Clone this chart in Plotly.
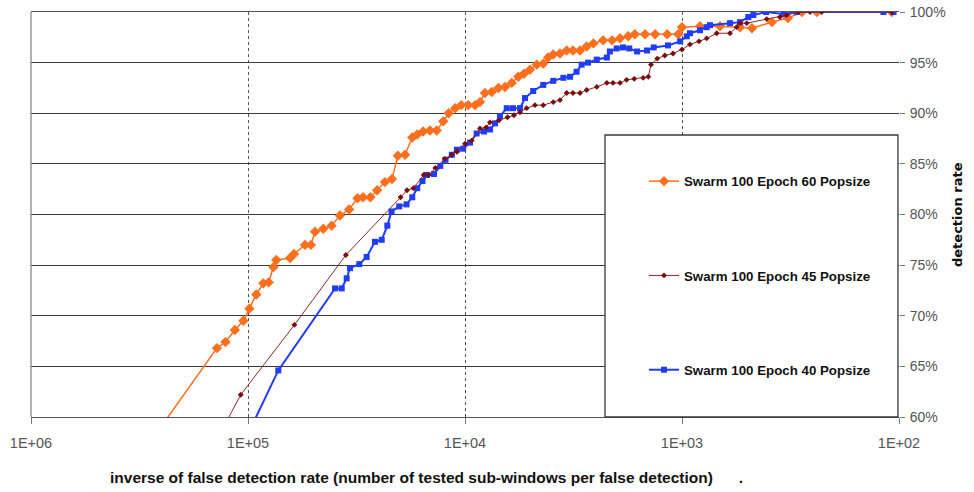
import plotly.graph_objects as go

# Detection rate vs. inverse false detection rate for three swarm settings
x_ticks = [1e6, 1e5, 1e4, 1e3, 1e2]
x_tick_labels = ["1E+06", "1E+05", "1E+04", "1E+03", "1E+02"]
y_ticks = [60, 65, 70, 75, 80, 85, 90, 95, 100]
y_tick_labels = ["60%", "65%", "70%", "75%", "80%", "85%", "90%", "95%", "100%"]

epoch60_x = [3.40e5, 1.39e5, 1.27e5, 1.15e5, 1.05e5, 9.86e4, 9.16e4, 8.50e4, 8.03e4, 7.64e4,
             7.41e4, 6.40e4, 6.14e4, 5.46e4, 5.13e4, 4.91e4, 4.50e4, 4.12e4, 3.77e4, 3.42e4,
             3.13e4, 2.95e4, 2.73e4, 2.54e4, 2.34e4, 2.17e4, 2.04e4, 1.89e4, 1.75e4, 1.66e4,
             1.56e4, 1.45e4, 1.35e4, 1.26e4, 1.19e4, 1.11e4, 1.04e4, 9.66e3, 8.99e3, 8.53e3,
             8.09e3, 7.53e3, 7.02e3, 6.54e3, 6.09e3, 5.68e3, 5.35e3, 5.02e3, 4.67e3, 4.36e3,
             4.14e3, 3.92e3, 3.65e3, 3.40e3, 3.18e3, 2.95e3, 2.75e3, 2.56e3, 2.31e3, 2.10e3,
             1.93e3, 1.77e3, 1.65e3, 1.48e3, 1.33e3, 1.17e3, 1.04e3, 1.00e3, 8.26e2, 6.68e2,
             5.40e2, 4.76e2, 3.85e2, 3.25e2, 2.80e2, 2.39e2, 1.08e2]
epoch60_y = [55.1, 66.8, 67.4, 68.6, 69.5, 70.7, 72.1, 73.2, 73.3, 74.8,
             75.5, 75.7, 76.1, 77.0, 77.0, 78.3, 78.6, 78.9, 79.9, 80.5,
             81.6, 81.7, 81.7, 82.4, 83.2, 83.5, 85.8, 85.9, 87.6, 87.9,
             88.2, 88.3, 88.3, 89.2, 90.0, 90.5, 90.8, 90.8, 90.8, 91.1,
             92.0, 92.1, 92.5, 92.6, 93.0, 93.6, 93.9, 94.3, 94.8, 94.9,
             95.5, 95.8, 95.9, 96.2, 96.2, 96.2, 96.6, 96.9, 97.2, 97.2,
             97.4, 97.6, 97.8, 97.8, 97.8, 97.8, 97.8, 98.5, 98.6, 98.6,
             98.5, 98.4, 99.0, 99.4, 100, 100, 100]

epoch45_x = [1.62e5, 1.08e5, 6.11e4, 3.54e4, 1.98e4, 1.85e4, 1.73e4, 1.55e4, 1.47e4, 1.37e4,
             1.24e4, 1.15e4, 1.09e4, 1.00e4, 9.31e3, 8.53e3, 8.00e3, 7.67e3, 6.97e3, 6.37e3,
             5.95e3, 5.58e3, 5.20e3, 4.76e3, 4.36e3, 3.92e3, 3.65e3, 3.40e3, 3.18e3, 2.95e3,
             2.75e3, 2.47e3, 2.22e3, 2.08e3, 1.93e3, 1.80e3, 1.66e3, 1.51e3, 1.43e3, 1.39e3,
             1.30e3, 1.20e3, 1.10e3, 1.00e3, 9.19e2, 8.35e2, 7.69e2, 6.92e2, 6.01e2, 5.60e2,
             5.40e2, 5.03e2, 4.07e2, 3.54e2, 3.29e2, 2.91e2, 2.57e2, 2.27e2, 1.08e2]
epoch45_y = [55.1, 62.2, 69.1, 76.0, 81.7, 82.4, 82.6, 83.9, 83.9, 84.6,
             85.5, 85.9, 86.2, 87.0, 87.3, 88.5, 88.6, 89.1, 89.3, 89.6,
             89.8, 90.1, 90.5, 90.8, 90.8, 91.1, 91.3, 92.0, 92.0, 92.0,
             92.3, 92.6, 93.0, 93.0, 93.0, 93.3, 93.4, 93.5, 93.6, 94.8,
             95.4, 95.7, 95.9, 96.3, 96.8, 97.1, 97.4, 97.9, 97.9, 98.5,
             98.9, 98.9, 99.3, 99.5, 99.7, 100, 100, 100, 100]

epoch40_x = [1.18e5, 7.25e4, 3.97e4, 3.70e4, 3.51e4, 3.39e4, 3.07e4, 2.84e4, 2.60e4, 2.42e4,
             2.28e4, 2.18e4, 2.01e4, 1.86e4, 1.75e4, 1.66e4, 1.57e4, 1.50e4, 1.39e4, 1.30e4,
             1.23e4, 1.15e4, 1.09e4, 1.02e4, 9.48e3, 8.84e3, 8.17e3, 7.67e3, 7.27e3, 6.90e3,
             6.42e3, 6.01e3, 5.58e3, 5.29e3, 4.85e3, 4.36e3, 3.92e3, 3.52e3, 3.28e3, 3.06e3,
             2.90e3, 2.71e3, 2.47e3, 2.22e3, 2.15e3, 2.00e3, 1.87e3, 1.75e3, 1.61e3, 1.45e3,
             1.35e3, 1.16e3, 1.02e3, 9.51e2, 9.19e2, 8.26e2, 7.69e2, 7.43e2, 6.01e2, 5.40e2,
             4.95e2, 4.69e2, 4.10e2, 3.41e2, 2.96e2, 1.18e2, 1.06e2]
epoch40_y = [55.1, 64.6, 72.7, 72.7, 73.7, 74.7, 75.1, 75.8, 77.3, 77.5,
             78.9, 80.3, 80.8, 81.0, 81.7, 82.6, 83.3, 83.9, 84.0, 84.8,
             85.4, 85.9, 86.4, 86.5, 87.1, 88.0, 88.2, 88.4, 89.0, 89.7,
             90.5, 90.5, 90.5, 91.5, 92.2, 92.8, 93.2, 93.5, 93.6, 94.1,
             94.8, 95.0, 95.3, 95.5, 96.1, 96.4, 96.5, 96.4, 96.1, 96.2,
             96.5, 96.7, 97.1, 97.6, 97.9, 98.2, 98.5, 98.7, 98.9, 99.0,
             99.5, 99.7, 100, 99.8, 100, 100, 100]

SANS = "Liberation Sans, Arial, sans-serif"
ORANGE = "#ff6f1e"
MAROON = "#7a0c0c"
BLUE = "#1f3cff"

fig = go.Figure()

fig.add_trace(go.Scatter(
    x=epoch60_x, y=epoch60_y, mode="lines+markers",
    name="Swarm 100 Epoch 60 Popsize", legendgroup="e60", legendrank=1,
    line=dict(color=ORANGE, width=1.5),
    marker=dict(symbol="diamond", size=8, color=ORANGE),
))
fig.add_trace(go.Scatter(
    x=epoch40_x, y=epoch40_y, mode="lines+markers",
    name="Swarm 100 Epoch 40 Popsize", legendgroup="e40", legendrank=3,
    line=dict(color=BLUE, width=2),
    marker=dict(symbol="square", size=6, color=BLUE),
))
fig.add_trace(go.Scatter(
    x=epoch45_x, y=epoch45_y, mode="lines+markers",
    name="Swarm 100 Epoch 45 Popsize", legendgroup="e45", legendrank=2,
    line=dict(color="#8a2a2a", width=1),
    marker=dict(symbol="diamond", size=4.5, color=MAROON),
))

# Legend frame in the lower right of the plot area
fig.add_shape(type="rect", xref="paper", yref="paper",
              x0=0.6613, x1=0.9988, y0=0.0, y1=0.6963,
              line=dict(color="#3a3a3a", width=1.3), fillcolor="white", layer="above")
# Left border of the plot area
fig.add_shape(type="line", xref="paper", yref="paper", x0=0, x1=0, y0=0, y1=1,
              line=dict(color="#8a8a8a", width=1.3))

fig.add_annotation(
    text="<b>inverse of false detection rate (number of tested sub-windows per false detection)</b>      <b>.</b>",
    xref="paper", yref="paper", x=(426 - 31) / 868, y=-(477 - 417) / 405,
    showarrow=False, xanchor="center", yanchor="middle",
    font=dict(family=SANS, size=15.5, color="#111111"),
)
fig.add_annotation(
    text="<b>detection rate</b>", textangle=-90,
    xref="paper", yref="paper", x=(957 - 31) / 868, y=(417 - 215) / 405,
    showarrow=False, xanchor="center", yanchor="middle",
    font=dict(family="DejaVu Sans, Verdana, sans-serif", size=13, color="#111111"),
)

fig.update_layout(
    width=974, height=492,
    margin=dict(l=31, r=75, t=12, b=75),
    paper_bgcolor="white", plot_bgcolor="white",
    showlegend=True,
    legend=dict(
        x=(644 - 31) / 868, y=(417 - 166) / 405, xanchor="left", yanchor="top",
        bgcolor="rgba(0,0,0,0)", borderwidth=0,
        tracegroupgap=74, traceorder="grouped",
        font=dict(family=SANS, size=13.3, color="#111111", weight="bold"),
    ),
    xaxis=dict(
        type="log", range=[6, 2], automargin=False,
        tickvals=x_ticks, ticktext=x_tick_labels,
        showgrid=True, gridcolor="#555555", griddash="dot", gridwidth=1,
        showline=True, mirror=True, linecolor="#555555", linewidth=1.3,
        ticks="outside", ticklen=6, tickcolor="#777777",
        ticklabelstandoff=6,
        tickfont=dict(family=SANS, size=14.5, color="#555555"),
        zeroline=False,
    ),
    yaxis=dict(
        range=[60, 100], side="right", automargin=False,
        tickvals=y_ticks, ticktext=y_tick_labels,
        showgrid=True, gridcolor="#3a3a3a", gridwidth=1.3,
        showline=False,
        ticks="outside", ticklen=5, tickcolor="#777777",
        ticklabelstandoff=2,
        tickfont=dict(family=SANS, size=14, color="#555555"),
        zeroline=False,
    ),
)

fig.write_html("out.html")
